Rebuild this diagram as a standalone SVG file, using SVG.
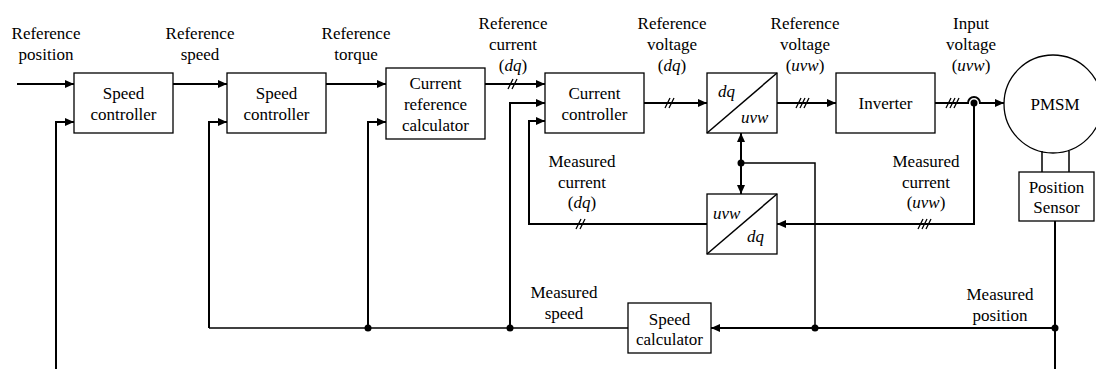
<svg xmlns="http://www.w3.org/2000/svg" width="1096" height="369" viewBox="0 0 1096 369">
<defs>
<marker id="arr" markerUnits="userSpaceOnUse" markerWidth="9" markerHeight="8" refX="9" refY="4" orient="auto">
<path d="M0,0 L9,4 L0,8 z" fill="#000"/>
</marker>
<style>
text{font-family:"Liberation Serif","Times New Roman",serif;font-size:17px;fill:#000}
.c{text-anchor:middle}
.i{font-style:italic}
.box{fill:#fff;stroke:#000;stroke-width:1.3}
.w{fill:none;stroke:#000;stroke-width:2}
.t{fill:none;stroke:#000;stroke-width:1.5}
.a{marker-end:url(#arr)}
.tick{stroke:#000;stroke-width:1.3;fill:none}
.dot{fill:#000}
</style>
</defs>
<rect width="1096" height="369" fill="#fff"/>

<g id="connectors">
<path class="w a" d="M17,84 H74"/>
<path class="w a" d="M173,84 H227"/>
<path class="w a" d="M326,84 H386"/>
<path class="w a" d="M485,84 H545"/>
<path class="w a" d="M644,103 H707"/>
<path class="w a" d="M777,103 H836"/>
<path class="w a" d="M935,103 H968 A6,6 0 0 1 980,103 H1004"/>
<path class="w a" d="M56,369 V122 H74"/>
<path class="t" d="M628,328 H209"/>
<path class="w a" d="M209,328 V122 H227"/>
<path class="w a" d="M368,328 V122 H386"/>
<path class="w a" d="M510,328 V103 H545"/>
<path class="w a" d="M707,224 H529 V121 H545"/>
<path class="w a" d="M974,103 V224 H777"/>
<path class="w" d="M1055,221 V369"/>
<path class="w a" d="M1055,328 H711"/>
<path class="t" d="M815,328 V163 H741"/>
<path class="w a" d="M741,163 V133"/>
<path class="w a" d="M741,163 V194"/>
<circle class="dot" cx="368" cy="328" r="3.5"/>
<circle class="dot" cx="510" cy="328" r="3.5"/>
<circle class="dot" cx="815" cy="328" r="3.5"/>
<circle class="dot" cx="1055" cy="328" r="3.5"/>
<circle class="dot" cx="741" cy="163" r="3.5"/>
<circle class="dot" cx="974" cy="103" r="3.5"/>
<path class="tick" d="M508,89 L513,79 M512,89 L517,79"/>
<path class="tick" d="M665,108 L670,98 M669,108 L674,98"/>
<path class="tick" d="M796,108 L801,98 M800,108 L805,98 M804,108 L809,98"/>
<path class="tick" d="M946,108 L951,98 M950,108 L955,98 M954,108 L959,98"/>
<path class="tick" d="M576,229 L581,219 M580,229 L585,219"/>
<path class="tick" d="M918,229 L923,219 M922,229 L927,219 M926,229 L931,219"/>
</g>

<g id="labels">
<text class="c" x="46" y="39">Reference</text>
<text class="c" x="46" y="60">position</text>
<text class="c" x="200" y="39">Reference</text>
<text class="c" x="200" y="60">speed</text>
<text class="c" x="356" y="39">Reference</text>
<text class="c" x="356" y="60">torque</text>
<text class="c" x="513" y="29">Reference</text>
<text class="c" x="513" y="50">current</text>
<text class="c" x="513" y="71">(<tspan class="i">dq</tspan>)</text>
<text class="c" x="672" y="29">Reference</text>
<text class="c" x="672" y="50">voltage</text>
<text class="c" x="672" y="71">(<tspan class="i">dq</tspan>)</text>
<text class="c" x="805" y="29">Reference</text>
<text class="c" x="805" y="50">voltage</text>
<text class="c" x="805" y="71">(<tspan class="i">uvw</tspan>)</text>
<text class="c" x="971" y="29">Input</text>
<text class="c" x="971" y="50">voltage</text>
<text class="c" x="971" y="71">(<tspan class="i">uvw</tspan>)</text>
<text class="c" x="582" y="167">Measured</text>
<text class="c" x="582" y="188">current</text>
<text class="c" x="582" y="208">(<tspan class="i">dq</tspan>)</text>
<text class="c" x="926" y="167">Measured</text>
<text class="c" x="926" y="188">current</text>
<text class="c" x="926" y="208">(<tspan class="i">uvw</tspan>)</text>
<text class="c" x="564" y="298">Measured</text>
<text class="c" x="564" y="319">speed</text>
<text class="c" x="1000" y="300">Measured</text>
<text class="c" x="1000" y="321">position</text>
</g>

<g id="speed-controller-1">
<rect class="box" x="74" y="73" width="99" height="60"/>
<text class="c" x="123.5" y="99">Speed</text>
<text class="c" x="123.5" y="120">controller</text>
</g>
<g id="speed-controller-2">
<rect class="box" x="227" y="73" width="99" height="60"/>
<text class="c" x="276.5" y="99">Speed</text>
<text class="c" x="276.5" y="120">controller</text>
</g>
<g id="current-reference-calculator">
<rect class="box" x="386" y="68" width="99" height="71"/>
<text class="c" x="435.5" y="89">Current</text>
<text class="c" x="435.5" y="110">reference</text>
<text class="c" x="435.5" y="131">calculator</text>
</g>
<g id="current-controller">
<rect class="box" x="545" y="73" width="99" height="60"/>
<text class="c" x="594.5" y="99">Current</text>
<text class="c" x="594.5" y="120">controller</text>
</g>
<g id="dq-uvw">
<rect class="box" x="707" y="73" width="70" height="60"/>
<path class="t" d="M707,133 L777,73"/>
<text class="i" x="718" y="97">dq</text>
<text class="i" x="741" y="123">uvw</text>
</g>
<g id="inverter">
<rect class="box" x="836" y="73" width="99" height="60"/>
<text class="c" x="885.5" y="109">Inverter</text>
</g>
<g id="pmsm">
<circle cx="1053" cy="104" r="49" fill="#fff" stroke="#000" stroke-width="1.3"/>
<text class="c" x="1055" y="110">PMSM</text>
</g>
<g id="position-sensor">
<path class="t" d="M1042,151 V172 M1069,151 V172"/>
<rect class="box" x="1019" y="172" width="75" height="49"/>
<text class="c" x="1056.5" y="193">Position</text>
<text class="c" x="1056.5" y="213">Sensor</text>
</g>
<g id="uvw-dq">
<rect class="box" x="707" y="194" width="70" height="60"/>
<path class="t" d="M707,254 L777,194"/>
<text class="i" x="713" y="219">uvw</text>
<text class="i" x="747" y="242">dq</text>
</g>
<g id="speed-calculator">
<rect class="box" x="628" y="303" width="83" height="50"/>
<text class="c" x="669.5" y="325">Speed</text>
<text class="c" x="669.5" y="345">calculator</text>
</g>
</svg>
